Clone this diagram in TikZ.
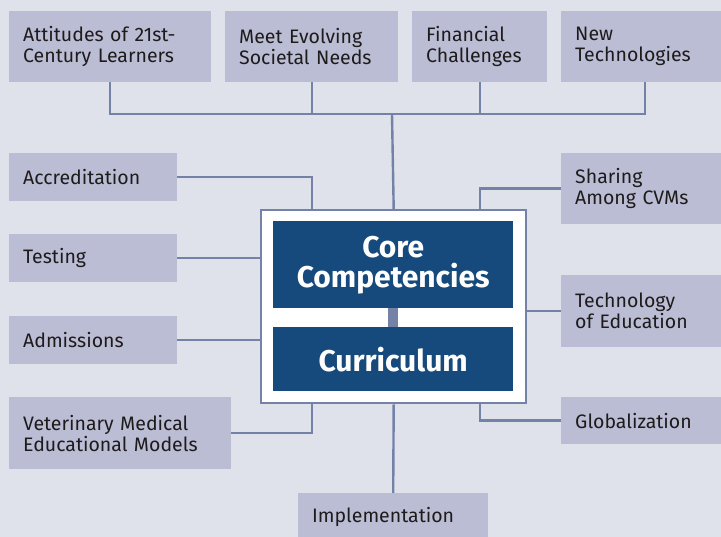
\documentclass[tikz,border=0pt]{standalone}
\usepackage{fontspec}
\setmainfont{Fira Sans}
\definecolor{bgc}{HTML}{DFE1EB}
\definecolor{boxc}{HTML}{BBBDD4}
\definecolor{linkc}{HTML}{7582A8}
\definecolor{corec}{HTML}{174A7C}
\definecolor{txtc}{HTML}{1E1B1C}

\begin{document}
\begin{tikzpicture}[x=1pt, y=-1pt]
\tikzset{ topic/.style={fill=boxc, text=txtc, anchor=north west, align=left,
            inner xsep=14pt, inner ysep=0pt, font=\fontsize{19.5}{21}\selectfont},
          link/.style={linkc, line width=2.4pt},
          corebox/.style={fill=corec, text=white, anchor=north west, align=center,
            inner sep=0pt, minimum width=240pt, font=\fontsize{30}{30}\selectfont\bfseries} }

\fill [bgc] (0,0) rectangle (721,537);
\useasboundingbox (0,0) rectangle (721,537);

% top row
\node [topic, text width=174pt, minimum height=71pt] (att)  at (9,11)   {Attitudes of 21st-\\Century Learners};
\node [topic, text width=145pt, minimum height=71pt] (meet) at (225,11) {Meet Evolving\\Societal Needs};
\node [topic, text width=107pt, minimum height=71pt] (fin)  at (412,11) {Financial\\Challenges};
\node [topic, text width=140pt, minimum height=71pt] (newt) at (561,11) {New\\Technologies};

% left column
\node [topic, text width=140pt, minimum height=48pt] (accr) at (9,153) {Accreditation};
\node [topic, text width=140pt, minimum height=48pt] (test) at (9,234) {Testing};
\node [topic, text width=140pt, minimum height=48pt] (adm)  at (9,316) {Admissions};
\node [topic, text width=194pt, minimum height=72pt] (vet)  at (9,397) {Veterinary Medical\\Educational Models};

% right column
\node [topic, text width=140pt, minimum height=71pt] (share) at (561,153) {Sharing\\Among CVMs};
\node [topic, text width=140pt, minimum height=72pt] (tech)  at (561,275) {Technology\\of Education};
\node [topic, text width=140pt, minimum height=47pt] (glob)  at (561,397) {Globalization};

\node [topic, text width=162pt, minimum height=48pt] (impl) at (298,493) {Implementation};

% centre
\node [draw=linkc, line width=2.4pt, fill=white, anchor=north west, inner sep=0pt,
       minimum width=265pt, minimum height=193pt] (frame) at (260,209) {};
\node [corebox, minimum height=87pt] (core) at (273,221) {Core\\Competencies};
\node [corebox, minimum height=64pt] (curr) at (273,327) {Curriculum};
\draw [linkc, line width=10pt] (core.south) -- (curr.north);

\coordinate (hub) at (392,114);
\draw [link] (att.south) |- (hub) -| (newt.south);
\draw [link] (meet.south) -- (meet.south |- hub);
\draw [link] (fin.south)  -- (fin.south |- hub);
\draw [link] (hub) -- (frame.north);

\draw [link] (accr.east) -| (frame.north -| meet.south);
\draw [link] (test.east) -- (test.east -| frame.west);
\draw [link] (adm.east)  -- (adm.east -| frame.west);
\draw [link] (vet.east)  -| (frame.south -| meet.south);

\draw [link] (share.west) -| (frame.north -| fin.south);
\draw [link] (tech.west)  -- (tech.west -| frame.east);
\draw [link] (glob.west)  -| (frame.south -| fin.south);

\draw [link] (frame.south) -- (impl.north);
\end{tikzpicture}
\end{document}
